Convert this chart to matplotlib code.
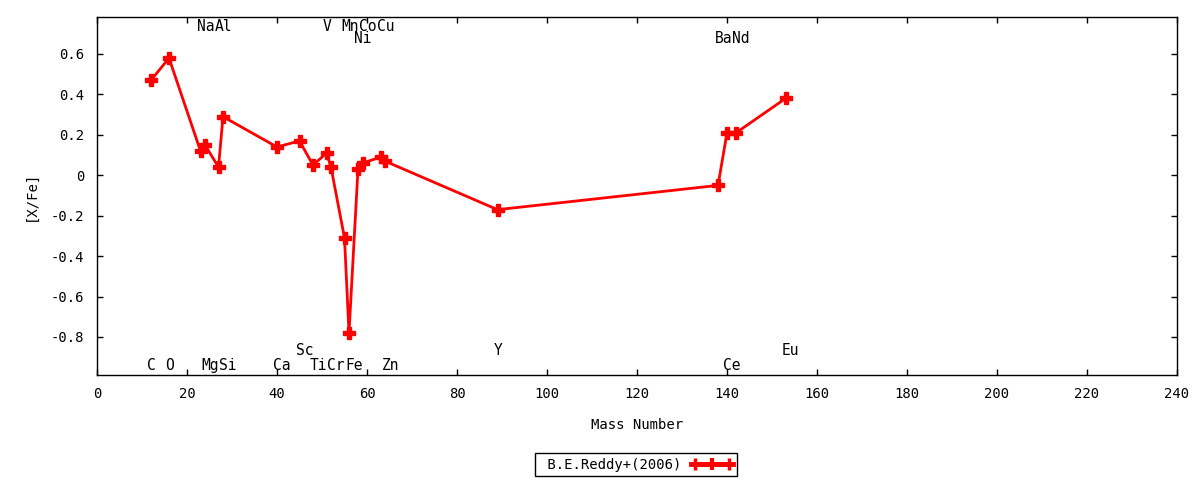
import matplotlib
matplotlib.use("Agg")
import matplotlib.pyplot as plt
from matplotlib.lines import Line2D
from matplotlib.legend_handler import HandlerLine2D, HandlerTuple
from matplotlib.ticker import FuncFormatter, MultipleLocator

plt.rcParams["font.family"] = ["DejaVu Sans Mono"]
plt.rcParams["axes.unicode_minus"] = False

# abundance pattern, ordered by mass number
elements = ["C", "O", "Na", "Mg", "Al", "Si", "Ca", "Sc", "Ti", "V", "Cr",
            "Mn", "Fe", "Ni", "Co", "Cu", "Zn", "Y", "Ba", "Ce", "Nd", "Eu"]
mass = [12, 16, 23, 24, 27, 28, 40, 45, 48, 51, 52,
        55, 56, 58, 59, 63, 64, 89, 138, 140, 142, 153]
x_fe = [0.47, 0.58, 0.12, 0.15, 0.04, 0.29, 0.14, 0.17, 0.05, 0.11, 0.04,
        -0.31, -0.78, 0.03, 0.06, 0.09, 0.07, -0.17, -0.05, 0.21, 0.21, 0.38]
# label row for each element name (baseline, in data units)
label_y = [-0.962, -0.962, 0.716, -0.962, 0.716, -0.962, -0.962, -0.891, -0.962, 0.716, -0.962,
           0.716, -0.962, 0.652, 0.716, 0.716, -0.962, -0.891, 0.652, -0.962, 0.652, -0.891]

RED = "#ff0000"
FS = 10

fig = plt.figure(figsize=(12, 4.8), dpi=100)
ax = fig.add_axes([97 / 1200, 1 - 375 / 480, 1080 / 1200, 358 / 480])

ax.plot(mass, x_fe, color=RED, lw=2, marker="P", ms=8, mec=RED, mfc=RED, zorder=3)

for name, m, ly in zip(elements, mass, label_y):
    ax.text(m - 0.8, ly, name, ha="left", va="baseline", fontsize=10.5)

ax.set_xlim(0, 240)
ax.set_ylim(-0.988, 0.783)
ax.xaxis.set_major_locator(MultipleLocator(20))
ax.yaxis.set_major_locator(MultipleLocator(0.2))
ax.yaxis.set_major_formatter(FuncFormatter(lambda v, p: "%g" % round(v, 2)))
ax.tick_params(direction="in", top=True, right=True, length=4, width=1,
               labelsize=FS)
ax.tick_params(axis="y", pad=9)
ax.tick_params(axis="x", pad=9)
for sp in ax.spines.values():
    sp.set_linewidth(1)

fig.text(637 / 1200, 1 - 425 / 480, "Mass Number", ha="center", va="center", fontsize=FS)
fig.text(31 / 1200, 1 - 196 / 480, "[X/Fe]", ha="center", va="center",
         rotation=90, fontsize=FS)

line_h = Line2D([], [], color=RED, lw=3.5, marker="|", ms=9, mew=3, mec=RED)
bar_h = Line2D([], [], color=RED, lw=3.5, marker="|", ms=9, mew=2.5, mec=RED)
handle = (bar_h, line_h)
leg = fig.legend([handle], [" B.E.Reddy+(2006)"], loc="center",
                 bbox_to_anchor=(636 / 1200, 1 - 464.5 / 480), markerfirst=False,
                 fancybox=False, edgecolor="black", framealpha=1, fontsize=FS,
                 handlelength=3, borderpad=0.3, handletextpad=0.7,
                 handler_map={bar_h: HandlerLine2D(numpoints=2),
                              line_h: HandlerLine2D(numpoints=1),
                              tuple: HandlerTuple(ndivide=1)})
leg.get_frame().set_linewidth(1)

fig.savefig("out.png", dpi=100)
